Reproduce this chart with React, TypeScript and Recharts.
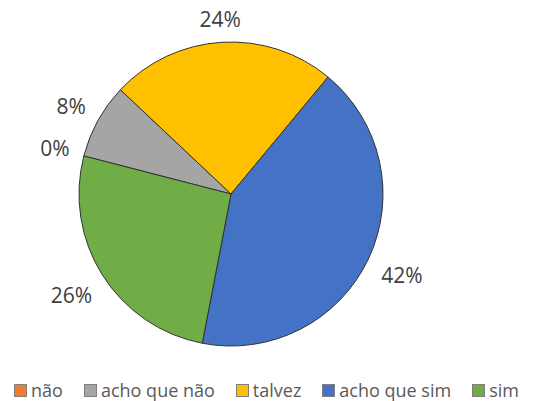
import React from "react";
import { PieChart, Pie, Cell, Legend } from "recharts";

const categories = ["não", "acho que não", "talvez", "acho que sim", "sim"];
const counts = [0, 4, 12, 21, 13];
const colors = ["#ED7D31", "#A5A5A5", "#FFC000", "#4472C4", "#70AD47"];

const data = categories.map((name, i) => ({ name, value: counts[i] }));

const RAD = Math.PI / 180;
const FONT = "'Open Sans', sans-serif";

const renderLabel = (props: any) => {
  const { cx, cy, midAngle, outerRadius, percent } = props;
  const text = `${Math.round(percent * 100)}%`;
  const halfW = text.length * 7.5;
  const halfH = 9;
  const c = Math.cos(-midAngle * RAD);
  const s = Math.sin(-midAngle * RAD);
  const r = outerRadius + 13 + halfW * Math.abs(c) + halfH * Math.abs(s);
  return (
    <text
      x={cx + r * c}
      y={cy + r * s}
      fill="#404040"
      fontSize={21}
      fontFamily={FONT}
      textAnchor="middle"
      dominantBaseline="central"
    >
      {text}
    </text>
  );
};

const renderLegend = () => (
  <div
    style={{
      display: "flex",
      justifyContent: "center",
      gap: 21,
      fontFamily: FONT,
      fontSize: 18,
      lineHeight: "20px",
      color: "#595959",
      paddingRight: 20,
    }}
  >
    {categories.map((name, i) => (
      <div key={name} style={{ display: "flex", alignItems: "center" }}>
        <span
          style={{
            display: "inline-block",
            width: 13,
            height: 13,
            background: colors[i],
            border: "1px solid #7f7f7f",
            marginRight: 4,
            boxSizing: "border-box",
          }}
        />
        <span>{name}</span>
      </div>
    ))}
  </div>
);

export default function App() {
  return (
    <div style={{ position: "absolute", left: 0, top: 0, background: "#fff" }}>
      <PieChart
        width={553}
        height={401}
        margin={{ top: 0, right: 0, bottom: 0, left: 0 }}
      >
        <Pie
          data={data}
          dataKey="value"
          nameKey="name"
          cx={231}
          cy={194}
          outerRadius={152}
          startAngle={165.5}
          endAngle={-194.5}
          stroke="#333333"
          strokeWidth={1}
          label={renderLabel}
          labelLine={false}
          isAnimationActive={false}
        >
          {data.map((d, i) => (
            <Cell key={d.name} fill={colors[i]} />
          ))}
        </Pie>
        <Legend
          content={renderLegend}
          verticalAlign="bottom"
          wrapperStyle={{ bottom: 1, left: 0, width: 553 }}
        />
      </PieChart>
    </div>
  );
}
